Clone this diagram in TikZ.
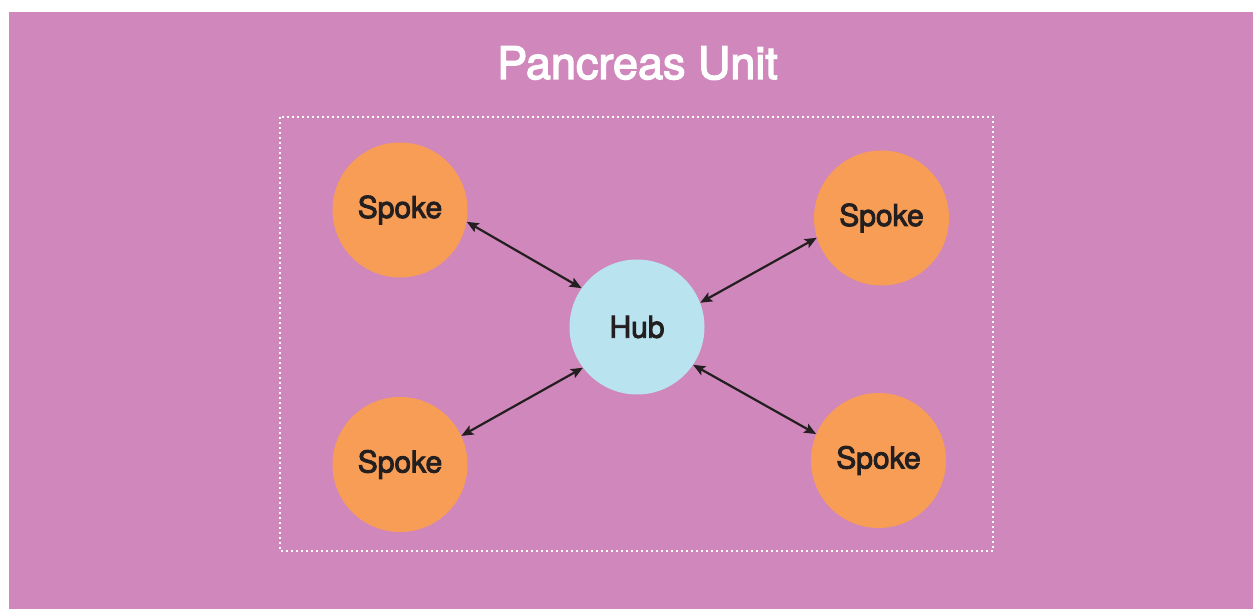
\documentclass[tikz,border=0pt]{standalone}
\usepackage{fontspec}
\setmainfont{TeX Gyre Heros}
\newfontfamily\medfont[FakeBold=3]{TeX Gyre Heros}
\usetikzlibrary{arrows.meta}
\definecolor{bgpink}{HTML}{D087BB}
\definecolor{spokeor}{HTML}{F89D55}
\definecolor{hubblue}{HTML}{B8E3EF}
\definecolor{ink}{HTML}{231F20}
\tikzset{
  spokenode/.style={circle, fill=spokeor, minimum size=135pt, inner sep=0pt, text=ink, font=\medfont\fontsize{30}{33}\selectfont},
  hubnode/.style={circle, fill=hubblue, minimum size=135pt, inner sep=0pt, text=ink, font=\medfont\fontsize{30}{33}\selectfont},
  link/.style={draw=ink, line width=2.2pt, {Stealth[length=12pt,width=10pt,inset=2.5pt]}-{Stealth[length=12pt,width=10pt,inset=2.5pt]}},
  frame/.style={draw=white, line width=2.2pt, dash pattern=on 2pt off 3pt}
}
\begin{document}
\begin{tikzpicture}[x=1pt,y=-1pt]
\useasboundingbox (0,0) rectangle (1253,609);
\fill[bgpink] (9,12) rectangle (1253,609);
\node[text=white, font=\medfont\fontsize{45}{50}\selectfont] (title) at (637.5,63) {Pancreas Unit};
\coordinate (f1) at (280,117);
\coordinate (f2) at (993,551);
\draw[frame] (f1) rectangle (f2);
\node[hubnode] (hub) at (637,327) {Hub};
\node[spokenode] (tl) at (400,210) {Spoke};
\node[spokenode] (tr) at (881.5,218) {Spoke};
\node[spokenode] (bl) at (400,464.5) {Spoke};
\node[spokenode] (br) at (878.5,460.5) {Spoke};
\draw[link] (tl.-10) -- (hub.145);
\draw[link] (tr.197) -- (hub.21);
\draw[link] (bl.25) -- (hub.217);
\draw[link] (br.157) -- (hub.-34);
\end{tikzpicture}
\end{document}
